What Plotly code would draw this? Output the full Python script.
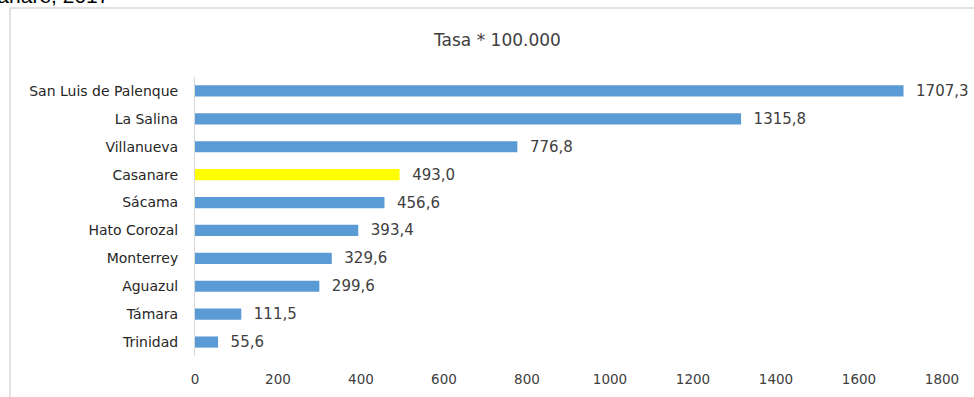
import plotly.graph_objects as go

categories = ["San Luis de Palenque", "La Salina", "Villanueva", "Casanare", "Sácama",
              "Hato Corozal", "Monterrey", "Aguazul", "Támara", "Trinidad"]
values = [1707.3, 1315.8, 776.8, 493.0, 456.6, 393.4, 329.6, 299.6, 111.5, 55.6]
highlight = "Casanare"
tick_vals = [0, 200, 400, 600, 800, 1000, 1200, 1400, 1600, 1800]

colors = ["#ffff00" if c == highlight else "#5b9bd5" for c in categories]
labels = ["\u00a0\u00a0" + f"{v:.1f}".replace(".", ",") for v in values]

W, H = 974, 397
ml, mr, mt, mb = 195, 32, 77, 41
pw, ph = W - ml - mr, H - mt - mb

def px(X):
    return (X - ml) / pw

def py(Y):
    return (H - mb - Y) / ph

FONT = "DejaVu Sans, sans-serif"

fig = go.Figure(go.Bar(
    x=values, y=categories, orientation="h",
    marker=dict(color=colors, line=dict(width=0)),
    text=labels, textposition="outside", cliponaxis=False, constraintext="none",
    textfont=dict(family=FONT, size=15, color="#404040"),
    width=0.4,
))

fig.update_layout(
    width=W, height=H,
    margin=dict(l=ml, r=mr, t=mt, b=mb, autoexpand=False),
    paper_bgcolor="white", plot_bgcolor="white",
    showlegend=False,
    font=dict(family=FONT, color="#404040"),
    xaxis=dict(range=[0, 1800], tickvals=tick_vals, showgrid=False, zeroline=False,
               showline=False, tickfont=dict(size=13.5, color="#404040"), ticks="",
               ticklabelstandoff=13, automargin=False),
    yaxis=dict(autorange="reversed", showline=True, linecolor="#d9d9d9", linewidth=1,
               showgrid=False, ticks="", tickfont=dict(size=14, color="#262626"),
               ticklabelstandoff=13, automargin=False),
    annotations=[
        dict(text="Tasa * 100.000", x=px(497), y=py(40), xref="paper", yref="paper",
             showarrow=False, xanchor="center", yanchor="middle",
             font=dict(size=17, color="#404040", family=FONT)),
        dict(text="Casanare, 2017", x=px(111), y=py(9), xref="paper", yref="paper",
             showarrow=False, xanchor="right", yanchor="bottom",
             font=dict(size=21, color="#000000", family="Arial, Liberation Sans, sans-serif")),
    ],
    shapes=[
        dict(type="rect", xref="paper", yref="paper",
             x0=px(10), x1=px(990), y0=py(410), y1=py(8),
             line=dict(color="#d9d9d9", width=1.5), fillcolor="rgba(0,0,0,0)", layer="below"),
    ],
)

fig.write_html("out.html", config={"displayModeBar": False},
               post_script="document.body.style.margin='0';document.body.style.overflow='hidden';")
